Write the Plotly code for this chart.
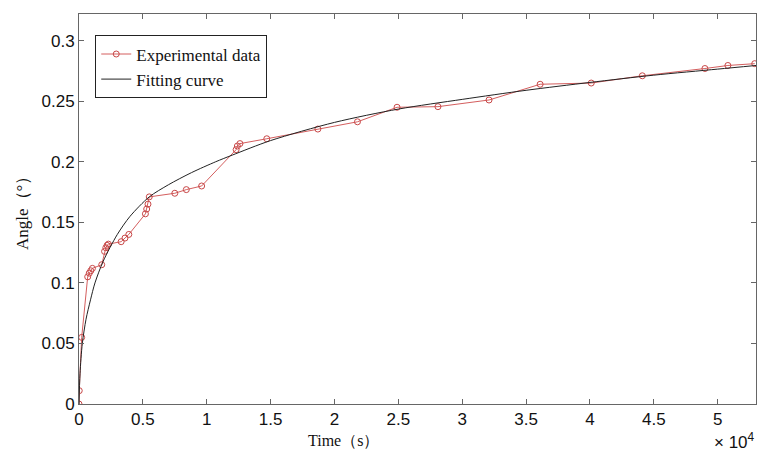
import plotly.graph_objects as go

# Experimental data (time in s, angle in degrees)
exp_t = [0, 20, 210, 680, 800, 920, 1050, 1780, 2000, 2100, 2200, 2300,
         3300, 3600, 3900, 5200, 5300, 5400, 5500, 7500, 8400, 9600,
         12300, 12400, 12600, 14700, 18700, 21800, 24900, 28100, 32100,
         36100, 40100, 44100, 49000, 50800, 52900]
exp_y = [0.0, 0.011, 0.055, 0.105, 0.108, 0.110, 0.112, 0.115, 0.126, 0.129, 0.131, 0.132,
         0.134, 0.137, 0.140, 0.157, 0.161, 0.165, 0.171, 0.174, 0.177, 0.180,
         0.210, 0.213, 0.215, 0.219, 0.227, 0.233, 0.245, 0.2455, 0.251,
         0.264, 0.265, 0.271, 0.277, 0.2795, 0.281]

# Fitting curve points
fit_t = [0, 80, 260, 550, 900, 1250, 1900, 3000, 4000, 5500, 7000, 8800,
         10700, 12000, 15000, 20000, 25000, 30000, 35000, 40000, 45000, 50000, 53000]
fit_y = [0.0, 0.025, 0.05, 0.07, 0.086, 0.100, 0.118, 0.140, 0.155, 0.171, 0.181, 0.191,
         0.200, 0.2055, 0.2175, 0.2325, 0.2435, 0.2515, 0.259, 0.2655, 0.2715, 0.2765, 0.2795]

x_tickvals = [0, 5000, 10000, 15000, 20000, 25000, 30000, 35000, 40000, 45000, 50000]
x_ticktext = ["0", "0.5", "1", "1.5", "2", "2.5", "3", "3.5", "4", "4.5", "5"]
y_tickvals = [0, 0.05, 0.1, 0.15, 0.2, 0.25, 0.3]
y_ticktext = ["0", "0.05", "0.1", "0.15", "0.2", "0.25", "0.3"]

SERIF = "Liberation Serif, Times New Roman, serif"
SANS = "Liberation Sans, Arial, sans-serif"

fig = go.Figure()
fig.add_trace(go.Scatter(
    x=exp_t, y=exp_y, mode="lines+markers", name="Experimental data",
    line=dict(color="#d45e5e", width=1),
    marker=dict(symbol="circle-open", size=6, color="#c84848", line=dict(width=1)),
))
fig.add_trace(go.Scatter(
    x=fit_t, y=fit_y, mode="lines", name="Fitting curve",
    line=dict(color="#222222", width=1, shape="spline", smoothing=0.8),
))

axis_common = dict(
    showline=True, linecolor="#666666", linewidth=1, mirror="ticks",
    ticks="inside", ticklen=5, tickcolor="#666666", showgrid=False, zeroline=False,
    tickfont=dict(family=SANS, size=17, color="#111111"),
)
fig.update_xaxes(range=[0, 53000], tickvals=x_tickvals, ticktext=x_ticktext, **axis_common)
fig.update_yaxes(range=[0, 0.322], tickvals=y_tickvals, ticktext=y_ticktext, **axis_common)

fig.update_layout(
    width=757, height=452,
    margin=dict(l=79, r=1, t=14, b=48),
    plot_bgcolor="white", paper_bgcolor="white",
    showlegend=True,
    legend=dict(
        x=0.024, y=0.945, xanchor="left", yanchor="top",
        bgcolor="white", bordercolor="#222222", borderwidth=1,
        font=dict(family=SERIF, size=17, color="#111111"),
        tracegroupgap=0, itemwidth=30,
    ),
)
fig.add_annotation(text="Time（s）", xref="paper", yref="paper",
                   x=(343 - 79) / 677, y=-(440 - 404) / 390, yanchor="middle",
                   showarrow=False, borderpad=0,
                   font=dict(family=SERIF, size=16, color="#111111"))
fig.add_annotation(text="Angle（°）", xref="paper", yref="paper",
                   x=-(79 - 22) / 677, y=0.5, textangle=-90, xanchor="center",
                   showarrow=False, borderpad=0,
                   font=dict(family=SERIF, size=17, color="#111111"))
fig.add_annotation(text="× 10<sup>4</sup>", xref="paper", yref="paper",
                   x=1.0, y=-(441 - 404) / 390, xanchor="right", yanchor="middle",
                   showarrow=False, borderpad=0,
                   font=dict(family=SANS, size=17, color="#111111"))

fig.write_html("out.html")
